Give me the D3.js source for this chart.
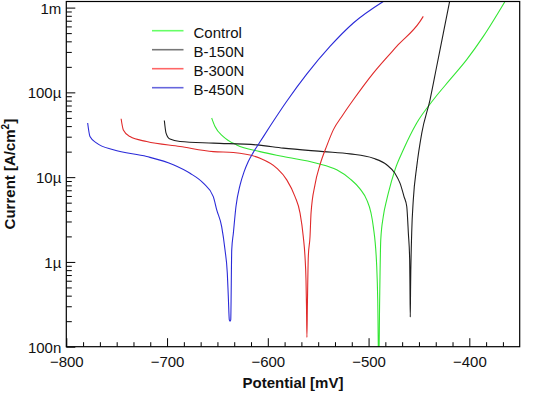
<!DOCTYPE html>
<html><head><meta charset="utf-8">
<script src="https://cdn.jsdelivr.net/npm/d3@7/dist/d3.min.js"></script>
<style>
html,body{margin:0;padding:0;background:#fff;}
svg{display:block;font-family:Arial,"Liberation Sans",sans-serif;}
</style></head>
<body><svg id="c" width="539" height="396"></svg>
<script>
// ---------- data ----------
const seriesNames = ["Control", "B-150N", "B-300N", "B-450N"];
const seriesColors = ["#33e633", "#1e1e1e", "#e02a2a", "#2a2ad8"];
const legendColors = ["#66ff66", "#777777", "#ff6666", "#6666dd"];

const controlPotential = [-655.7,-652.4,-644.2,-630.9,-607.7,-584.6,-551.5,-531.6,-518.4,-508.5,-501.8,-497.6,-495.3,-491.9,-490.9,-489.9,-489.0,-487.9,-485.4,-482.0,-480.4,-473.8,-465.5,-452.2,-435.7,-419.2,-402.6,-386.1,-364.6];
const controlCurrent = [4.98e-5,3.95e-5,3.01e-5,2.40e-5,2.00e-5,1.75e-5,1.46e-5,1.22e-5,9.55e-6,7.28e-6,5.40e-6,3.79e-6,2.61e-6,8.81e-7,3.56e-7,5.0e-8,3.56e-7,1.82e-6,3.43e-6,5.40e-6,6.47e-6,1.22e-5,2.10e-5,4.35e-5,8.18e-5,1.41e-4,2.43e-4,4.57e-4,1.18e-3];

const b150Potential = [-702.7,-701.0,-697.1,-687.1,-654.1,-611.0,-584.6,-544.9,-518.4,-495.3,-482.0,-473.8,-468.8,-464.8,-462.1,-460.5,-459.2,-458.9,-458.6,-458.3,-457.2,-455.6,-452.2,-447.2,-439.0,-432.4,-425.8,-419.2];
const b150Current = [4.66e-5,3.31e-5,2.81e-5,2.63e-5,2.52e-5,2.40e-5,2.20e-5,2.00e-5,1.88e-5,1.67e-5,1.40e-5,1.11e-5,8.49e-6,5.90e-6,4.50e-6,2.18e-6,1.06e-6,5.0e-7,2.24e-7,5.0e-7,2.18e-6,5.40e-6,1.33e-5,3.31e-5,8.18e-5,2.02e-4,5.01e-4,1.24e-3];

const b300Potential = [-745.6,-743.4,-736.8,-720.2,-687.1,-654.1,-634.2,-607.7,-591.2,-581.2,-573.0,-568.0,-564.8,-563.1,-562.1,-561.6,-561.2,-560.7,-559.8,-558.1,-557.1,-553.2,-548.2,-541.5,-535.0,-525.4,-515.1,-495.3,-472.1,-448.9,-445.7];
const b300Current = [4.88e-5,3.61e-5,3.01e-5,2.63e-5,2.30e-5,2.00e-5,1.95e-5,1.67e-5,1.28e-5,9.29e-6,5.90e-6,3.76e-6,1.99e-6,1.16e-6,6.12e-7,2.96e-7,1.29e-7,3.16e-7,1.16e-6,1.99e-6,3.76e-6,8.11e-6,1.40e-5,2.34e-5,3.61e-5,5.45e-5,8.18e-5,1.69e-4,3.48e-4,6.87e-4,7.87e-4];

const b450Potential = [-778.8,-776.5,-769.8,-753.3,-720.2,-693.8,-677.2,-664.0,-654.1,-650.7,-645.8,-642.5,-640.2,-639.2,-638.2,-637.5,-636.8,-635.8,-634.2,-631.6,-627.5,-623.5,-619.5,-614.4,-607.7,-597.8,-581.2,-561.4,-538.3,-515.1,-485.4];
const b450Current = [4.35e-5,3.01e-5,2.52e-5,2.10e-5,1.75e-5,1.40e-5,1.11e-5,8.49e-6,5.90e-6,4.11e-6,2.61e-6,1.39e-6,7.36e-7,3.89e-7,2.07e-7,2.0e-7,2.07e-7,1.39e-6,2.18e-6,4.50e-6,8.11e-6,1.16e-5,1.52e-5,1.96e-5,2.61e-5,3.98e-5,7.85e-5,1.64e-4,3.48e-4,6.58e-4,1.18e-3];

const xMajorTicks = [-800, -700, -600, -500, -400];
const xTickLabels = ["\u2212800", "\u2212700", "\u2212600", "\u2212500", "\u2212400"];
const yMajorTicks = [1e-7, 1e-6, 1e-5, 1e-4, 1e-3];
const yTickLabels = ["100n", "1\u00b5", "10\u00b5", "100\u00b5", "1m"];
const xDomain = [-800, -350];
const yDomain = [1e-7, 1.18e-3];

// ---------- layout ----------
const L = 66.3, R = 519.7, T = 1.5, B = 346.7;
const svg = d3.select("#c");
const x = d3.scaleLinear().domain(xDomain).range([L, R]);
const y = d3.scaleLog().domain(yDomain).range([B, T]);

const xMinor = d3.range(1, 27).filter(i => i % 6 !== 0).map(i => xDomain[0] + i * 100 / 6);
const yMinor = [];
[1e-7, 1e-6, 1e-5, 1e-4].forEach(d => { for (let k = 2; k <= 9; k++) yMinor.push(d * k); });

svg.append("defs").append("clipPath").attr("id", "clip")
  .append("rect").attr("x", L).attr("y", T).attr("width", R - L).attr("height", B - T);

const series = [
  {p: controlPotential, c: controlCurrent},
  {p: b150Potential, c: b150Current},
  {p: b300Potential, c: b300Current},
  {p: b450Potential, c: b450Current}
];
const line = d3.line().x(d => x(d[0])).y(d => y(d[1])).curve(d3.curveMonotoneX);
const g = svg.append("g").attr("clip-path", "url(#clip)");
series.forEach((s, i) => {
  g.append("path").datum(s.p.map((v, j) => [v, s.c[j]]))
    .attr("d", line).attr("fill", "none")
    .attr("stroke", seriesColors[i]).attr("stroke-width", 1.1);
});

// axes
function styleAxis(sel) {
  sel.select(".domain").remove();
  sel.selectAll(".tick line").attr("stroke", "#000").attr("stroke-width", 1);
}
svg.append("g").attr("transform", `translate(0,${B})`)
  .call(d3.axisBottom(x).tickValues(xMinor).tickSize(-4.5).tickFormat(""))
  .call(styleAxis);
svg.append("g").attr("transform", `translate(0,${B})`)
  .call(d3.axisBottom(x).tickValues(xMajorTicks).tickSize(-8.5).tickPadding(0)
    .tickFormat((d, i) => xTickLabels[i]))
  .call(styleAxis)
  .call(s => s.selectAll("text").attr("y", 20).attr("dy", 0)
    .attr("font-size", 15).attr("fill", "#111").attr("font-family", "Arial, 'Liberation Sans', sans-serif"));
svg.append("g").attr("transform", `translate(${L},0)`)
  .call(d3.axisLeft(y).tickValues(yMinor).tickSize(-5.5).tickFormat(""))
  .call(styleAxis);
svg.append("g").attr("transform", `translate(${L},0)`)
  .call(d3.axisLeft(y).tickValues(yMajorTicks).tickSize(-9).tickPadding(0)
    .tickFormat((d, i) => yTickLabels[i]))
  .call(styleAxis)
  .call(s => s.selectAll("text").attr("x", -5).attr("dy", "0.36em")
    .attr("font-size", 15).attr("fill", "#111").attr("font-family", "Arial, 'Liberation Sans', sans-serif"));

// frame
svg.append("rect").attr("x", L).attr("y", T).attr("width", R - L).attr("height", B - T)
  .attr("fill", "none").attr("stroke", "#000").attr("stroke-width", 1.2);

// axis titles
svg.append("text").attr("x", (L + R) / 2).attr("y", 388).attr("text-anchor", "middle")
  .attr("font-size", 15).attr("font-weight", "bold").attr("fill", "#111").text("Potential [mV]");
const yt = svg.append("text").attr("transform", `translate(15,${(T + B) / 2}) rotate(-90)`)
  .attr("text-anchor", "middle").attr("font-size", 15).attr("font-weight", "bold").attr("fill", "#111");
yt.append("tspan").text("Current [A/cm");
yt.append("tspan").attr("font-size", 10).attr("dy", -6).text("2");
yt.append("tspan").attr("dy", 6).text("]");

// legend
seriesNames.forEach((n, i) => {
  const ly = 30.7 + i * 19;
  svg.append("line").attr("x1", 152).attr("x2", 183.5).attr("y1", ly).attr("y2", ly)
    .attr("stroke", legendColors[i]).attr("stroke-width", 1.6);
  svg.append("text").attr("x", 193.5).attr("y", ly + 7.5).attr("font-size", 15)
    .attr("fill", "#111").text(n);
});
</script></body></html>
